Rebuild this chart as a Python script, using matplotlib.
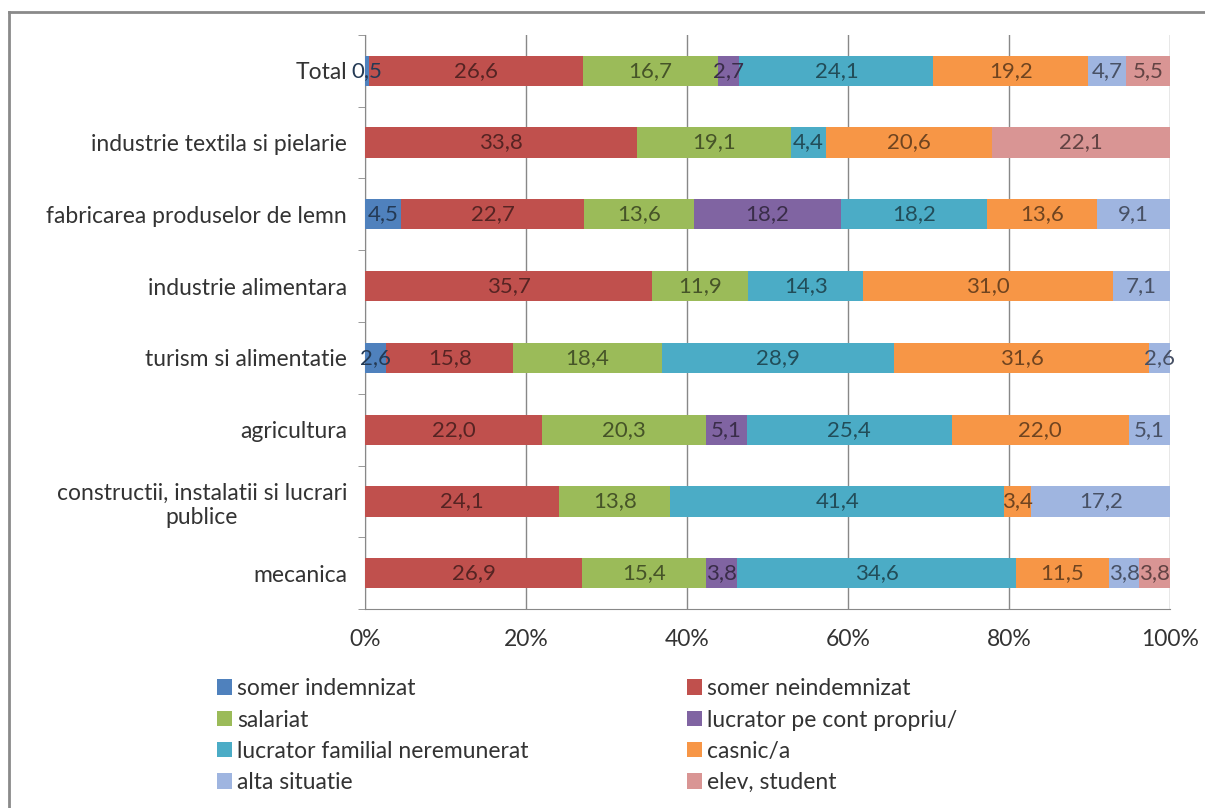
import matplotlib
matplotlib.use("Agg")
import matplotlib.pyplot as plt
import matplotlib.lines as mlines
from matplotlib.colors import to_rgb
import numpy as np

plt.rcParams['font.family'] = ['Lato', 'DejaVu Sans']

categories = ["Total", "industrie textila si pielarie", "fabricarea produselor de lemn",
              "industrie alimentara", "turism si alimentatie", "agricultura",
              "constructii, instalatii si lucrari\npublice", "mecanica"]
series_names = ["somer indemnizat", "somer neindemnizat", "salariat", "lucrator pe cont propriu/",
                "lucrator familial neremunerat", "casnic/a", "alta situatie", "elev, student"]
colors = ["#4F81BD", "#C0504D", "#9BBB59", "#8064A2", "#4BACC6", "#F79646", "#9FB5E0", "#D99594"]

somer_indemnizat = [0.5, 0, 4.5, 0, 2.6, 0, 0, 0]
somer_neindemnizat = [26.6, 33.8, 22.7, 35.7, 15.8, 22.0, 24.1, 26.9]
salariat = [16.7, 19.1, 13.6, 11.9, 18.4, 20.3, 13.8, 15.4]
cont_propriu = [2.7, 0, 18.2, 0, 0, 5.1, 0, 3.8]
familial = [24.1, 4.4, 18.2, 14.3, 28.9, 25.4, 41.4, 34.6]
casnic = [19.2, 20.6, 13.6, 31.0, 31.6, 22.0, 3.4, 11.5]
alta = [4.7, 0, 9.1, 7.1, 2.6, 5.1, 17.2, 3.8]
elev = [5.5, 22.1, 0, 0, 0, 0, 0, 3.8]

data = np.array([somer_indemnizat, somer_neindemnizat, salariat, cont_propriu,
                 familial, casnic, alta, elev])
totals = data.sum(axis=0)
pct = data / totals * 100

fs = 16.5
fig = plt.figure(figsize=(12.05, 8.08), dpi=100)
ax = fig.add_axes([0.303, 0.246, 0.668, 0.711])

y = np.arange(len(categories))
left = np.zeros(len(categories))
handles = []
for i, name in enumerate(series_names):
    bars = ax.barh(y, pct[i], left=left, height=0.42, color=colors[i], label=name, zorder=3)
    handles.append(bars)
    dark = tuple(c * 0.45 for c in to_rgb(colors[i]))
    for j in range(len(categories)):
        v = data[i, j]
        if v > 0:
            ax.text(left[j] + pct[i, j] / 2, y[j], f"{v:.1f}".replace(".", ","),
                    ha="center", va="center", fontsize=16, color=dark, zorder=4)
    left += pct[i]

ax.set_ylim(len(categories) - 0.5, -0.5)
ax.set_xlim(0, 100)
ax.set_yticks(y)
ax.set_yticklabels(categories, fontsize=fs, color="#333333", ha="right", multialignment="center")
ax.tick_params(axis="y", length=0, pad=13)
ax.set_yticks(np.arange(-0.5, len(categories)), minor=True)
ax.tick_params(axis="y", which="minor", length=5, color="#888888")
ax.set_xticks([0, 20, 40, 60, 80, 100])
ax.set_xticklabels(["0%", "20%", "40%", "60%", "80%", "100%"], fontsize=fs, color="#333333")
ax.tick_params(axis="x", length=0, pad=14)
ax.grid(axis="x", color="#888888", linewidth=1, zorder=0)
for s in ["top", "right"]:
    ax.spines[s].set_visible(False)
ax.spines["left"].set_color("#888888")
ax.spines["bottom"].set_color("#888888")

order = [0, 2, 4, 6, 1, 3, 5, 7]
leg = fig.legend([handles[k] for k in order], [series_names[k] for k in order],
                 loc="upper left", bbox_to_anchor=(0.1726, 0.172), ncol=2, frameon=False,
                 fontsize=fs, handlelength=0.66, handleheight=0.66, handletextpad=0.22,
                 columnspacing=6.9, labelspacing=0.45, borderaxespad=0)
for t in leg.get_texts():
    t.set_color("#333333")

# outer chart border (only left and top edges visible in the cropped original)
fig.add_artist(mlines.Line2D([9 / 1205, 9 / 1205], [0, 1 - 12 / 808], transform=fig.transFigure,
                             color="#8a8a8a", linewidth=2))
fig.add_artist(mlines.Line2D([9 / 1205, 1], [1 - 12 / 808, 1 - 12 / 808], transform=fig.transFigure,
                             color="#8a8a8a", linewidth=2))

fig.savefig("out.png", dpi=100)
